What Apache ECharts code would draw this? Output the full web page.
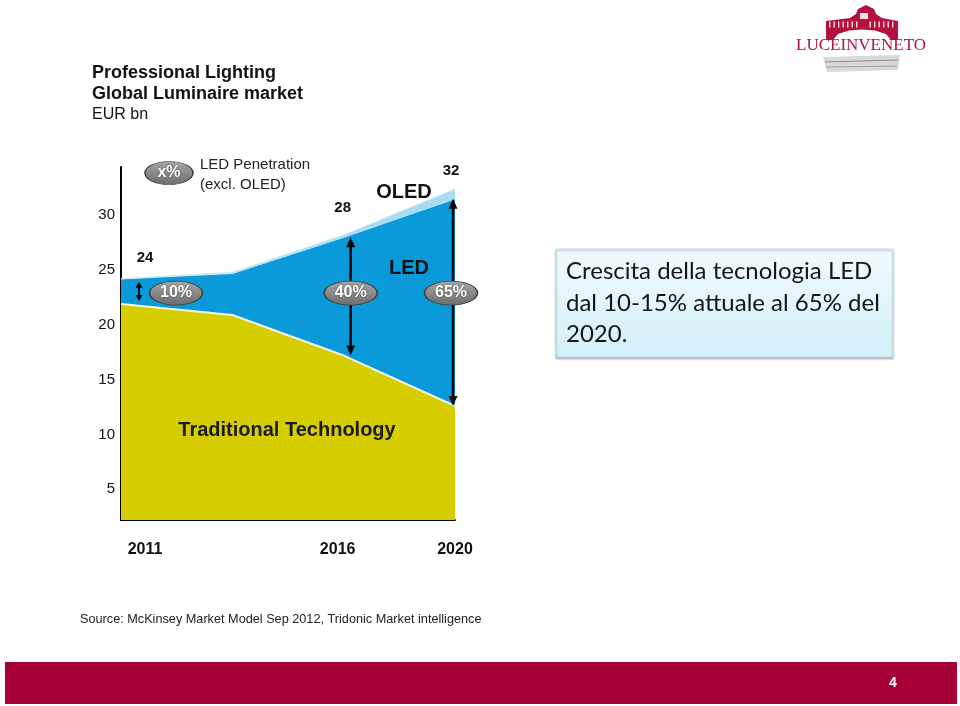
<!DOCTYPE html>
<html><head><meta charset="utf-8">
<script src="https://cdn.jsdelivr.net/npm/echarts@6/dist/echarts.min.js"></script>
<style>html,body{margin:0;padding:0;background:#fff}#c{width:960px;height:706px}</style>
</head><body><div id="c"></div>
<script>
// ---- data ----
const categories = ['2011', '', '2016', '2020'];
const traditional = [21.9, 20.9, 17.2, 12.6];
const led = [2.3, 3.8, 10.8, 18.9];
const oled = [0, 0.1, 0.2, 0.9];
const totalLabels = ['24', '', '28', '32'];
const penetration = ['10%', '', '40%', '65%'];
const yTicks = [5, 10, 15, 20, 25, 30];

// ---- annotation styling (pixel offsets) ----
const arrowDx = [18, 0, 7, -2];
const arrowInset = [3, 0, 0, 0];
const bubbleDx = [55, 0, 7, -4];
const labelDx = [24, 0, -1, -4];
const labelDy = [-21, 0, -27, -18];
const bubbleLevel = 22.9;

const FONT = "'Liberation Sans', Arial, sans-serif";
const chart = echarts.init(document.getElementById('c'), null, {renderer: 'canvas'});

function bubble(cx, cy, txt, w, h, z) {
  return {
    type: 'group', x: cx, y: cy, z: z || 0, children: [
      {type: 'circle', shape: {cx: 0, cy: 0, r: h / 2}, scaleX: w / h,
       style: {fill: new echarts.graphic.LinearGradient(0, 0, 0, 1, [
         {offset: 0, color: '#a6a6a6'}, {offset: 0.5, color: '#8a8a8a'}, {offset: 1, color: '#6c6c6c'}]),
         stroke: '#3c3c3c', lineWidth: 0.7}},
      {type: 'text', x: 0, y: 0, style: {text: txt, x: 0, y: 0, align: 'center', verticalAlign: 'middle',
        fill: '#ffffff', font: 'bold 16px ' + FONT, textShadowColor: 'rgba(0,0,0,0.5)', textShadowBlur: 2}}
    ]
  };
}

function arrow(x, yTop, yBot, small) {
  const hw = small ? 3.5 : 4.5, hl = small ? 6 : 10, lw = small ? 2 : 2.6;
  return {
    type: 'group', children: [
      {type: 'line', shape: {x1: x, y1: yTop + hl - 1, x2: x, y2: yBot - hl + 1}, style: {stroke: '#0a0a0a', lineWidth: lw}},
      {type: 'polygon', shape: {points: [[x, yTop], [x - hw, yTop + hl], [x + hw, yTop + hl]]}, style: {fill: '#0a0a0a'}},
      {type: 'polygon', shape: {points: [[x, yBot], [x - hw, yBot - hl], [x + hw, yBot - hl]]}, style: {fill: '#0a0a0a'}}
    ]
  };
}

const annotData = categories.map((c, i) => [i, traditional[i], traditional[i] + led[i], traditional[i] + led[i] + oled[i]])
  .filter((d, i) => penetration[i] !== '');

// logo railing posts
const posts = [];
for (let px = 829; px <= 895; px += 4.5) {
  if (px > 856 && px < 869) continue;
  posts.push({type: 'rect', z: 60, shape: {x: px, y: 21.5, width: 1.4, height: 6}, style: {fill: '#f6dbe2'}});
}

const option = {
  backgroundColor: '#ffffff',
  animation: false,
  grid: {left: 121, right: 505, top: 167, bottom: 186},
  xAxis: {
    type: 'category', data: categories, boundaryGap: false,
    axisLine: {lineStyle: {color: '#000', width: 2}},
    axisTick: {show: false},
    axisLabel: {
      interval: 0, margin: 22, color: '#111', fontFamily: FONT, fontWeight: 'bold', fontSize: 16,
      formatter: (v, i) => v ? '{l' + i + '|' + v + '}' : '',
      rich: {
        l0: {padding: [0, 0, 0, 48], fontFamily: FONT, fontWeight: 'bold', fontSize: 16, color: '#111'},
        l2: {padding: [0, 12, 0, 0], fontFamily: FONT, fontWeight: 'bold', fontSize: 16, color: '#111'},
        l3: {padding: [0, 0, 0, 0], fontFamily: FONT, fontWeight: 'bold', fontSize: 16, color: '#111'}
      }
    },
    splitLine: {show: false}
  },
  yAxis: {
    type: 'value', min: 2.2, max: 34.4,
    axisLine: {show: true, lineStyle: {color: '#000', width: 2}},
    axisTick: {show: false},
    splitLine: {show: false},
    axisLabel: {customValues: yTicks, color: '#111', fontFamily: FONT, fontSize: 15, margin: 6}
  },
  series: [
    {name: 'Traditional Technology', type: 'line', stack: 'm', data: traditional, symbol: 'none', z: 4,
     lineStyle: {color: '#f4f7e0', width: 2}, areaStyle: {color: '#d6cd00', opacity: 1}},
    {name: 'LED', type: 'line', stack: 'm', data: led, symbol: 'none', z: 2,
     lineStyle: {color: '#cfeefb', width: 1.2}, areaStyle: {color: '#0a9ad9', opacity: 1}},
    {name: 'OLED', type: 'line', stack: 'm', data: oled, symbol: 'none', z: 3,
     lineStyle: {color: '#cfeefb', width: 1}, areaStyle: {color: '#a9dcf2', opacity: 1}},
    {type: 'custom', coordinateSystem: 'cartesian2d', z: 10, silent: true, clip: false,
     data: annotData,
     renderItem: function (params, api) {
       const i = api.value(0);
       const pBase = api.coord([i, api.value(1)]);
       const pTop = api.coord([i, api.value(2)]);
       const pTot = api.coord([i, api.value(3)]);
       const pB = api.coord([i, bubbleLevel]);
       const x = pBase[0];
       return {
         type: 'group', children: [
           arrow(x + arrowDx[i], pTop[1] + arrowInset[i], pBase[1] - arrowInset[i], i === 0),
           bubble(x + bubbleDx[i], pB[1], penetration[i], 53, 24),
           {type: 'text', style: {text: totalLabels[i], x: x + labelDx[i], y: pTot[1] + labelDy[i],
             align: 'center', verticalAlign: 'middle', fill: '#111', font: 'bold 15px ' + FONT}}
         ]
       };
     }}
  ],
  graphic: [
    // titles
    {type: 'text', z: 50, left: 92, top: 64, style: {text: 'Professional Lighting', fill: '#111', font: 'bold 18px ' + FONT}},
    {type: 'text', z: 50, left: 92, top: 85, style: {text: 'Global Luminaire market', fill: '#111', font: 'bold 18px ' + FONT}},
    {type: 'text', z: 50, left: 92, top: 107, style: {text: 'EUR bn', fill: '#111', font: '16px ' + FONT}},
    // legend
    bubble(169, 173, 'x%', 48, 23, 50),
    {type: 'text', z: 50, left: 200, top: 157, style: {text: 'LED Penetration', fill: '#222', font: '15px ' + FONT}},
    {type: 'text', z: 50, left: 200, top: 177, style: {text: '(excl. OLED)', fill: '#222', font: '15px ' + FONT}},
    // area labels
    {type: 'text', z: 50, x: 404, y: 192, style: {text: 'OLED', align: 'center', verticalAlign: 'middle', fill: '#111', font: 'bold 20px ' + FONT}},
    {type: 'text', z: 50, x: 409, y: 268, style: {text: 'LED', align: 'center', verticalAlign: 'middle', fill: '#111', font: 'bold 20px ' + FONT}},
    {type: 'text', z: 50, x: 287, y: 430, style: {text: 'Traditional Technology', align: 'center', verticalAlign: 'middle', fill: '#1a1a1a', font: 'bold 20px ' + FONT}},
    // source
    {type: 'text', z: 50, left: 80, top: 613, style: {text: 'Source: McKinsey Market Model Sep 2012, Tridonic Market intelligence', fill: '#222', font: '12.7px ' + FONT}},
    // text box
    {type: 'rect', z: 40, shape: {x: 556, y: 249, width: 337, height: 108},
     style: {fill: new echarts.graphic.LinearGradient(0, 0, 0, 1, [
       {offset: 0, color: '#f1fafd'}, {offset: 1, color: '#d3eff9'}]),
       stroke: '#b9dde8', lineWidth: 1, shadowColor: 'rgba(0,0,0,0.25)', shadowBlur: 2, shadowOffsetY: 1.5}},
    {type: 'text', z: 50, left: 566, top: 256, style: {text: 'Crescita della tecnologia LED\ndal 10-15% attuale al 65% del\n2020.',
      fill: '#151515', font: '24px Lato, sans-serif', lineHeight: 31.5}},
    // footer
    {type: 'rect', z: 40, shape: {x: 5, y: 662, width: 952, height: 42}, style: {fill: '#a6003a'}},
    {type: 'text', z: 50, x: 893, y: 683, style: {text: '4', align: 'center', verticalAlign: 'middle', fill: '#ffffff', font: 'bold 14px ' + FONT}},
    // logo
    {type: 'polygon', z: 50, shape: {points: [[826, 40], [826, 21], [850, 18], [856, 14], [858, 9], [866, 5], [874, 9], [876, 14], [882, 18], [898, 21], [898, 40], [891, 40], [886, 34], [875, 30.5], [862, 29.5], [849, 30.5], [838, 34], [833, 40]]},
     style: {fill: '#b3123f'}},
    {type: 'rect', z: 60, shape: {x: 860, y: 13, width: 8, height: 6}, style: {fill: '#f6dbe2'}},
    ...posts,
    {type: 'text', z: 50, x: 861, y: 46, style: {text: 'LUCEINVENETO', align: 'center', verticalAlign: 'middle', fill: '#b3123f', font: '17px "Liberation Serif", serif'}},
    {type: 'polygon', z: 50, shape: {points: [[823, 57], [900, 55], [898, 70], [827, 72]]}, style: {fill: '#d9d9d9'}},
    {type: 'line', z: 55, shape: {x1: 825, y1: 62, x2: 898, y2: 60}, style: {stroke: '#8c8c8c', lineWidth: 1}},
    {type: 'line', z: 55, shape: {x1: 826, y1: 67, x2: 897, y2: 66}, style: {stroke: '#a0a0a0', lineWidth: 1}}
  ]
};
chart.setOption(option);
</script>
</body></html>
